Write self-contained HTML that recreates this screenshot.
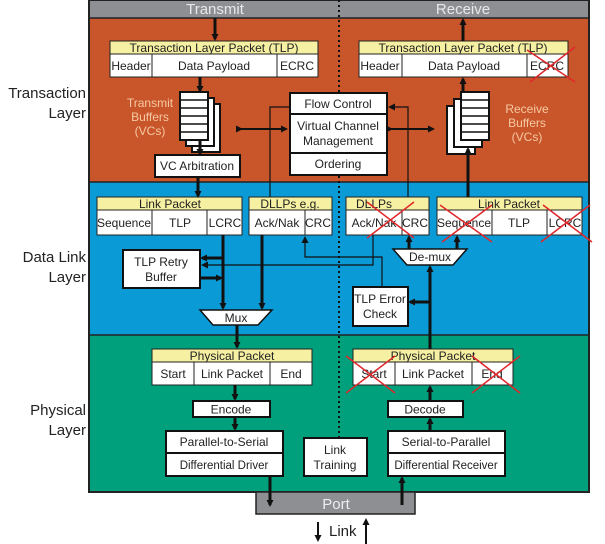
<!DOCTYPE html>
<html><head><meta charset="utf-8"><style>
html,body{margin:0;padding:0;background:#fff}
svg{display:block;font-family:"Liberation Sans",sans-serif}
</style></head><body>
<svg width="605" height="544" viewBox="0 0 605 544" xmlns="http://www.w3.org/2000/svg">
<defs>
<marker id="b" markerWidth="7" markerHeight="7" refX="5" refY="3.5" orient="auto" markerUnits="userSpaceOnUse"><path d="M0,0 L7,3.5 L0,7z" fill="#111"/></marker>
</defs>
<rect x="89" y="0" width="500" height="18" fill="#8d8f92"/>
<rect x="89" y="18" width="500" height="164" fill="#c9562b"/>
<rect x="89" y="182" width="500" height="153" fill="#0a9bd7"/>
<rect x="89" y="335" width="500" height="157" fill="#00a07c"/>
<rect x="89" y="0" width="500" height="492" fill="none" stroke="#222" stroke-width="2"/>
<line x1="89" y1="18" x2="589" y2="18" stroke="#222" stroke-width="1.5"/>
<line x1="89" y1="182" x2="589" y2="182" stroke="#222" stroke-width="1.5"/>
<line x1="89" y1="335" x2="589" y2="335" stroke="#222" stroke-width="1.5"/>
<line x1="339" y1="0" x2="339" y2="92" stroke="#111" stroke-width="2" stroke-dasharray="2,3"/>
<line x1="339" y1="176" x2="339" y2="470" stroke="#111" stroke-width="2" stroke-dasharray="2,3"/>
<text x="215" y="14" font-size="15" fill="#e8e8e8" text-anchor="middle">Transmit</text>
<text x="463" y="14" font-size="15" fill="#e8e8e8" text-anchor="middle">Receive</text>
<g font-size="15" fill="#222" text-anchor="end">
<text x="86" y="98">Transaction</text><text x="86" y="118">Layer</text>
<text x="86" y="262">Data Link</text><text x="86" y="282">Layer</text>
<text x="86" y="415">Physical</text><text x="86" y="435">Layer</text>
</g>
<g font-size="12" fill="#222" stroke-linejoin="miter">
<rect x="110" y="41" width="208" height="13" fill="#f6f0a2" stroke="#222"/>
<text x="214" y="52" text-anchor="middle">Transaction Layer Packet (TLP)</text>
<rect x="110" y="54" width="208" height="23" fill="#fff" stroke="#222"/>
<line x1="152" y1="54" x2="152" y2="77" stroke="#222"/><line x1="277" y1="54" x2="277" y2="77" stroke="#222"/>
<text x="131" y="70" text-anchor="middle">Header</text><text x="214" y="70" text-anchor="middle">Data Payload</text><text x="297" y="70" text-anchor="middle">ECRC</text>
<rect x="359" y="41" width="209" height="13" fill="#f6f0a2" stroke="#222"/>
<text x="463" y="52" text-anchor="middle">Transaction Layer Packet (TLP)</text>
<rect x="359" y="54" width="209" height="23" fill="#fff" stroke="#222"/>
<line x1="402" y1="54" x2="402" y2="77" stroke="#222"/><line x1="527" y1="54" x2="527" y2="77" stroke="#222"/>
<text x="380" y="70" text-anchor="middle">Header</text><text x="464" y="70" text-anchor="middle">Data Payload</text><text x="547" y="70" text-anchor="middle">ECRC</text>
<rect x="192" y="104" width="28" height="48" fill="#fff" stroke="#111" stroke-width="2"/>
<rect x="186" y="98" width="28" height="48" fill="#fff" stroke="#111" stroke-width="2"/>
<rect x="180" y="92" width="28" height="48" fill="#fff" stroke="#111" stroke-width="2"/>
<path d="M180,100h28M180,108h28M180,116h28M180,124h28M180,132h28" stroke="#111" stroke-width="1.5"/>
<g fill="#f6c9a2" text-anchor="middle" font-size="12"><text x="150" y="107">Transmit</text><text x="150" y="121">Buffers</text><text x="150" y="135">(VCs)</text></g>
<rect x="447" y="106" width="28" height="48" fill="#fff" stroke="#111" stroke-width="2"/>
<rect x="454" y="99" width="28" height="48" fill="#fff" stroke="#111" stroke-width="2"/>
<rect x="461" y="92" width="28" height="48" fill="#fff" stroke="#111" stroke-width="2"/>
<path d="M461,100h28M461,108h28M461,116h28M461,124h28M461,132h28" stroke="#111" stroke-width="1.5"/>
<g fill="#f6c9a2" text-anchor="middle" font-size="12"><text x="527" y="113">Receive</text><text x="527" y="127">Buffers</text><text x="527" y="141">(VCs)</text></g>
<rect x="290" y="93" width="97" height="82" fill="#fff" stroke="#111" stroke-width="2"/>
<line x1="290" y1="114" x2="387" y2="114" stroke="#111" stroke-width="2"/>
<line x1="290" y1="153" x2="387" y2="153" stroke="#111" stroke-width="2"/>
<text x="338" y="108" text-anchor="middle">Flow Control</text>
<text x="338" y="130" text-anchor="middle">Virtual Channel</text><text x="338" y="145" text-anchor="middle">Management</text>
<text x="338" y="168" text-anchor="middle">Ordering</text>
<rect x="155" y="155" width="85" height="22" fill="#fff" stroke="#111" stroke-width="2"/>
<text x="197" y="170" text-anchor="middle">VC Arbitration</text>
<rect x="97" y="197" width="145" height="13" fill="#f6f0a2" stroke="#222"/>
<text x="170" y="208" text-anchor="middle">Link Packet</text>
<rect x="97" y="210" width="145" height="25" fill="#fff" stroke="#222"/>
<line x1="152" y1="210" x2="152" y2="235" stroke="#222"/><line x1="207" y1="210" x2="207" y2="235" stroke="#222"/>
<text x="124" y="227" text-anchor="middle">Sequence</text><text x="180" y="227" text-anchor="middle">TLP</text><text x="225" y="227" text-anchor="middle">LCRC</text>
<rect x="249" y="197" width="83" height="13" fill="#f6f0a2" stroke="#222"/>
<text x="290" y="208" text-anchor="middle">DLLPs e.g.</text>
<rect x="249" y="210" width="83" height="25" fill="#fff" stroke="#222"/>
<line x1="305" y1="210" x2="305" y2="235" stroke="#222"/>
<text x="277" y="227" text-anchor="middle">Ack/Nak</text><text x="318" y="227" text-anchor="middle">CRC</text>
<rect x="346" y="197" width="83" height="13" fill="#f6f0a2" stroke="#222"/>
<text x="374" y="208" text-anchor="middle">DLLPs</text>
<rect x="346" y="210" width="83" height="25" fill="#fff" stroke="#222"/>
<line x1="402" y1="210" x2="402" y2="235" stroke="#222"/>
<text x="374" y="227" text-anchor="middle">Ack/Nak</text><text x="415" y="227" text-anchor="middle">CRC</text>
<rect x="437" y="197" width="145" height="13" fill="#f6f0a2" stroke="#222"/>
<text x="509" y="208" text-anchor="middle">Link Packet</text>
<rect x="437" y="210" width="145" height="25" fill="#fff" stroke="#222"/>
<line x1="492" y1="210" x2="492" y2="235" stroke="#222"/><line x1="547" y1="210" x2="547" y2="235" stroke="#222"/>
<text x="464" y="227" text-anchor="middle">Sequence</text><text x="519" y="227" text-anchor="middle">TLP</text><text x="565" y="227" text-anchor="middle">LCRC</text>
<rect x="123" y="250" width="77" height="38" fill="#fff" stroke="#111" stroke-width="2"/>
<text x="161" y="266" text-anchor="middle">TLP Retry</text><text x="161" y="281" text-anchor="middle">Buffer</text>
<rect x="353" y="287" width="55" height="39" fill="#fff" stroke="#111" stroke-width="2"/>
<text x="380" y="303" text-anchor="middle">TLP Error</text><text x="380" y="318" text-anchor="middle">Check</text>
<path d="M200,310 L272,310 L258,325 L213,325z" fill="#fff" stroke="#111" stroke-width="1.5"/>
<text x="236" y="322" text-anchor="middle">Mux</text>
<path d="M393,249 L467,249 L453,265 L407,265z" fill="#fff" stroke="#111" stroke-width="1.5"/>
<text x="430" y="261" text-anchor="middle">De-mux</text>
<rect x="152" y="349" width="160" height="13" fill="#f6f0a2" stroke="#222"/>
<text x="232" y="360" text-anchor="middle">Physical Packet</text>
<rect x="152" y="362" width="160" height="23" fill="#fff" stroke="#222"/>
<line x1="194" y1="362" x2="194" y2="385" stroke="#222"/><line x1="270" y1="362" x2="270" y2="385" stroke="#222"/>
<text x="173" y="378" text-anchor="middle">Start</text><text x="232" y="378" text-anchor="middle">Link Packet</text><text x="291" y="378" text-anchor="middle">End</text>
<rect x="353" y="349" width="160" height="13" fill="#f6f0a2" stroke="#222"/>
<text x="433" y="360" text-anchor="middle">Physical Packet</text>
<rect x="353" y="362" width="160" height="23" fill="#fff" stroke="#222"/>
<line x1="395" y1="362" x2="395" y2="385" stroke="#222"/><line x1="472" y1="362" x2="472" y2="385" stroke="#222"/>
<text x="374" y="378" text-anchor="middle">Start</text><text x="433" y="378" text-anchor="middle">Link Packet</text><text x="492" y="378" text-anchor="middle">End</text>
<rect x="193" y="401" width="77" height="16" fill="#fff" stroke="#111" stroke-width="2"/>
<text x="231" y="413.5" text-anchor="middle">Encode</text>
<rect x="388" y="401" width="75" height="16" fill="#fff" stroke="#111" stroke-width="2"/>
<text x="425" y="413.5" text-anchor="middle">Decode</text>
<rect x="166" y="431" width="117" height="45" fill="#fff" stroke="#111" stroke-width="2"/>
<line x1="166" y1="453" x2="283" y2="453" stroke="#111" stroke-width="2"/>
<text x="224" y="446" text-anchor="middle">Parallel-to-Serial</text><text x="224" y="469" text-anchor="middle" font-size="11.5">Differential Driver</text>
<rect x="388" y="431" width="117" height="45" fill="#fff" stroke="#111" stroke-width="2"/>
<line x1="388" y1="453" x2="505" y2="453" stroke="#111" stroke-width="2"/>
<text x="446" y="446" text-anchor="middle">Serial-to-Parallel</text><text x="446" y="469" text-anchor="middle" font-size="11.5">Differential Receiver</text>
<rect x="304" y="438" width="63" height="38" fill="#fff" stroke="#111" stroke-width="2"/>
<text x="335" y="454" text-anchor="middle">Link</text><text x="335" y="469" text-anchor="middle">Training</text>
</g>
<rect x="256" y="492" width="159" height="22" fill="#8d8f92" stroke="#222" stroke-width="1.5"/>
<text x="336" y="509" font-size="15" fill="#eee" text-anchor="middle">Port</text>
<text x="329" y="536" font-size="15" fill="#222">Link</text>
<g stroke="#111" stroke-width="3" fill="none" marker-end="url(#b)">
<line x1="215" y1="18" x2="215" y2="39"/>
<line x1="463" y1="41" x2="463" y2="20"/>
<line x1="200" y1="77" x2="200" y2="91"/>
<line x1="463" y1="92" x2="463" y2="79"/>
<line x1="200" y1="140" x2="200" y2="154"/>
<line x1="198" y1="177" x2="198" y2="196"/>
<line x1="468" y1="197" x2="468" y2="149"/>
<line x1="223" y1="235" x2="223" y2="308"/>
<line x1="262" y1="235" x2="262" y2="308"/>
<line x1="223" y1="258" x2="202" y2="258"/>
<line x1="200" y1="278" x2="221" y2="278"/>
<line x1="237" y1="325" x2="237" y2="347"/>
<line x1="235" y1="385" x2="235" y2="399"/>
<line x1="235" y1="417" x2="235" y2="429"/>
<line x1="270" y1="476" x2="270" y2="505"/>
<line x1="402" y1="505" x2="402" y2="478"/>
<line x1="430" y1="431" x2="430" y2="419"/>
<line x1="430" y1="401" x2="430" y2="387"/>
<line x1="430" y1="349" x2="430" y2="267"/>
<line x1="430" y1="302" x2="410" y2="302"/>
<line x1="409" y1="249" x2="409" y2="237"/>
<line x1="457" y1="249" x2="457" y2="237"/>
</g>
<g stroke="#111" stroke-width="2" fill="none" marker-end="url(#b)" marker-start="url(#b)">
<line x1="241" y1="129" x2="286" y2="129"/>
<line x1="391" y1="129" x2="433" y2="129"/>
</g>
<g stroke="#111" stroke-width="1.2" fill="none">
<polyline points="290,107 270,107 270,197"/>
<polyline points="408,197 408,107 390,107" marker-end="url(#b)"/>
<polyline points="373,235 373,265 203,265" marker-end="url(#b)"/>
<polyline points="382,287 382,257 305,257 305,238" marker-end="url(#b)"/>
</g>
<g stroke="#111" stroke-width="2" fill="none" marker-end="url(#b)">
<line x1="318" y1="522" x2="318" y2="540"/>
<line x1="366" y1="544" x2="366" y2="520"/>
</g>
<g stroke="#e0262a" stroke-width="1.5" fill="none">
<path d="M527,50 L575,82 M575,47 L530,82"/>
<path d="M367,202 L414,238 M414,202 L367,238"/>
<path d="M440,205 L492,242 M492,205 L442,242"/>
<path d="M543,205 L592,242 M590,205 L541,242"/>
<path d="M346,356 L395,393 M395,356 L346,393"/>
<path d="M472,356 L520,393 M520,356 L472,393"/>
</g>
</svg>
</body></html>
